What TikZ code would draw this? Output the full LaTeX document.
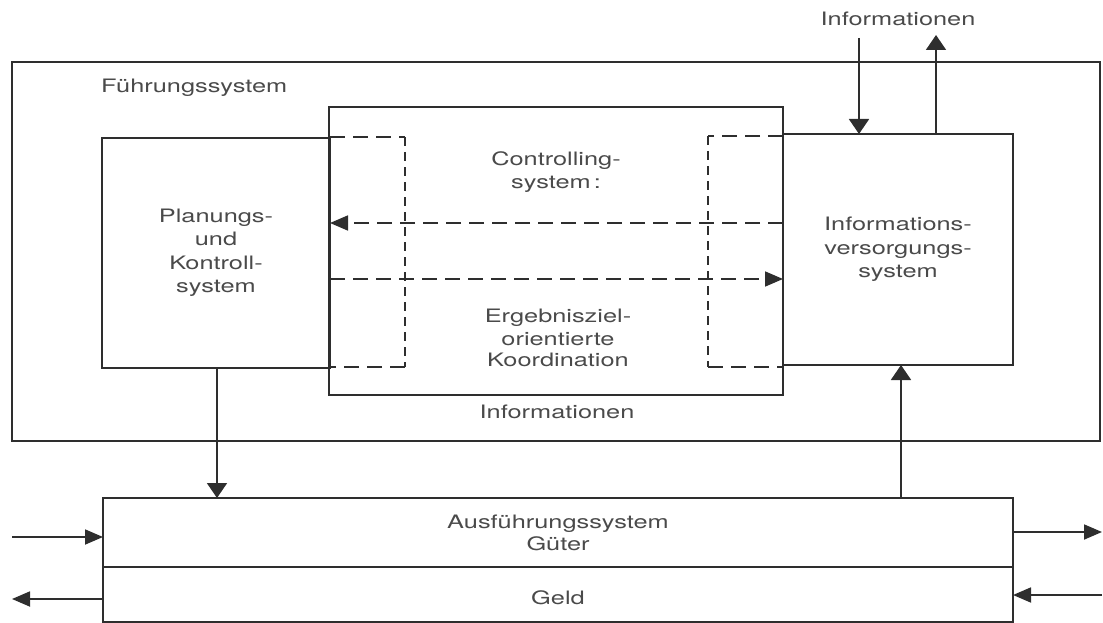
\documentclass[tikz,border=0pt]{standalone}
\usepackage{fontspec}
\setmainfont{TeX Gyre Heros}[FakeStretch=1.37]
\usetikzlibrary{arrows.meta}
\definecolor{ink}{HTML}{2E2E2E}
\definecolor{txt}{HTML}{4A4A4A}
\begin{document}
\begin{tikzpicture}[x=1pt,y=-1pt,
  every node/.style={font=\fontsize{18.5}{23.5}\selectfont, text=txt},
  box/.style={draw=ink, line width=1.8pt, inner sep=0pt, outer sep=0pt, align=center},
  lab/.style={inner sep=0pt, align=center},
  ln/.style={draw=ink, line width=1.8pt},
  harr/.style={-{Triangle[length=18pt,width=15pt]}},
  varr/.style={-{Triangle[length=15pt,width=20pt]}},
  hdash/.style={ln, dash pattern=on 15pt off 8pt},
  vdash/.style={ln, dash pattern=on 9pt off 6pt}]
\useasboundingbox (0,0) rectangle (1103,623);
% outer box
\node[box, minimum width=1088pt, minimum height=379pt] (F) at (556,251.5) {};
\node[lab, anchor=base west] (Ft) at (101,93) {Führungssystem};
% middle controlling box
\node[box, minimum width=454pt, minimum height=288pt] (C) at (556,251) {};
% left box
\node[box, fill=white, minimum width=228pt, minimum height=230pt] (P) at (216,253) {Planungs-\\und\\Kontroll-\\system};
% right box
\node[box, fill=white, minimum width=230pt, minimum height=231pt] (I) at (898,249.5) {Informations-\\versorgungs-\\system};
\draw[ln] (C.north west) rectangle (C.south east);
% dashed inner frames
\draw[hdash] (330,137) -- (405,137);
\draw[vdash] (405,137) -- (405,367);
\draw[hdash] (405,367) -- (330,367);
\draw[hdash] (783,136) -- (708,136);
\draw[vdash] (708,136) -- (708,367);
\draw[hdash] (708,367) -- (783,367);
% controlling texts
\node[lab, anchor=base] (Ct) at (556,165) {Controlling-};
\node[lab, anchor=base] (Ct2) at (556,189) {system\,:};
\node[lab, anchor=base] (Et) at (558,322) {Ergebnisziel-};
\node[lab, anchor=base] (Et2) at (558,345) {orientierte};
\node[lab, anchor=base] (Et3) at (558,366) {Koordination};
\node[lab, anchor=base] (Ib) at (557,418) {Informationen};
% dashed arrows
\coordinate (d1) at (0,223);
\coordinate (d2) at (0,279);
\draw[hdash, harr] (I.west |- d1) -- (P.east |- d1);
\draw[hdash, harr] (P.east |- d2) -- (I.west |- d2);
% top information arrows
\node[lab, anchor=base] (It) at (898,26) {Informationen};
\coordinate (ti) at (859,38);
\coordinate (to) at (936,35);
\draw[ln, varr] (ti) -- (ti |- I.north);
\draw[ln, varr] (to |- I.north) -- (to);
% bottom execution system
\node[box, minimum width=910pt, minimum height=69pt] (A) at (558,532.5) {};
\node[box, minimum width=910pt, minimum height=55pt] (G) at (558,594.5) {};
\node[lab, anchor=base] (At) at (558,528) {Ausführungssystem};
\node[lab, anchor=base] (At2) at (558,550) {Güter};
\node[lab, anchor=base] (Gt) at (558,604) {Geld};
% vertical connectors
\draw[ln, varr] ([xshift=1pt]P.south) -- ([xshift=1pt]P.south |- A.north);
\draw[ln, varr] ([xshift=3pt]I.south |- A.north) -- ([xshift=3pt]I.south);
% side arrows
\coordinate (l1) at (12,537);
\coordinate (l2) at (12,599);
\coordinate (r1) at (1102,532);
\coordinate (r2) at (1102,595);
\draw[ln, harr] (l1) -- (l1 -| A.west);
\draw[ln, harr] (l2 -| G.west) -- (l2);
\draw[ln, harr] (r1 -| A.east) -- (r1);
\draw[ln, harr] (r2) -- (r2 -| G.east);
\end{tikzpicture}
\end{document}
